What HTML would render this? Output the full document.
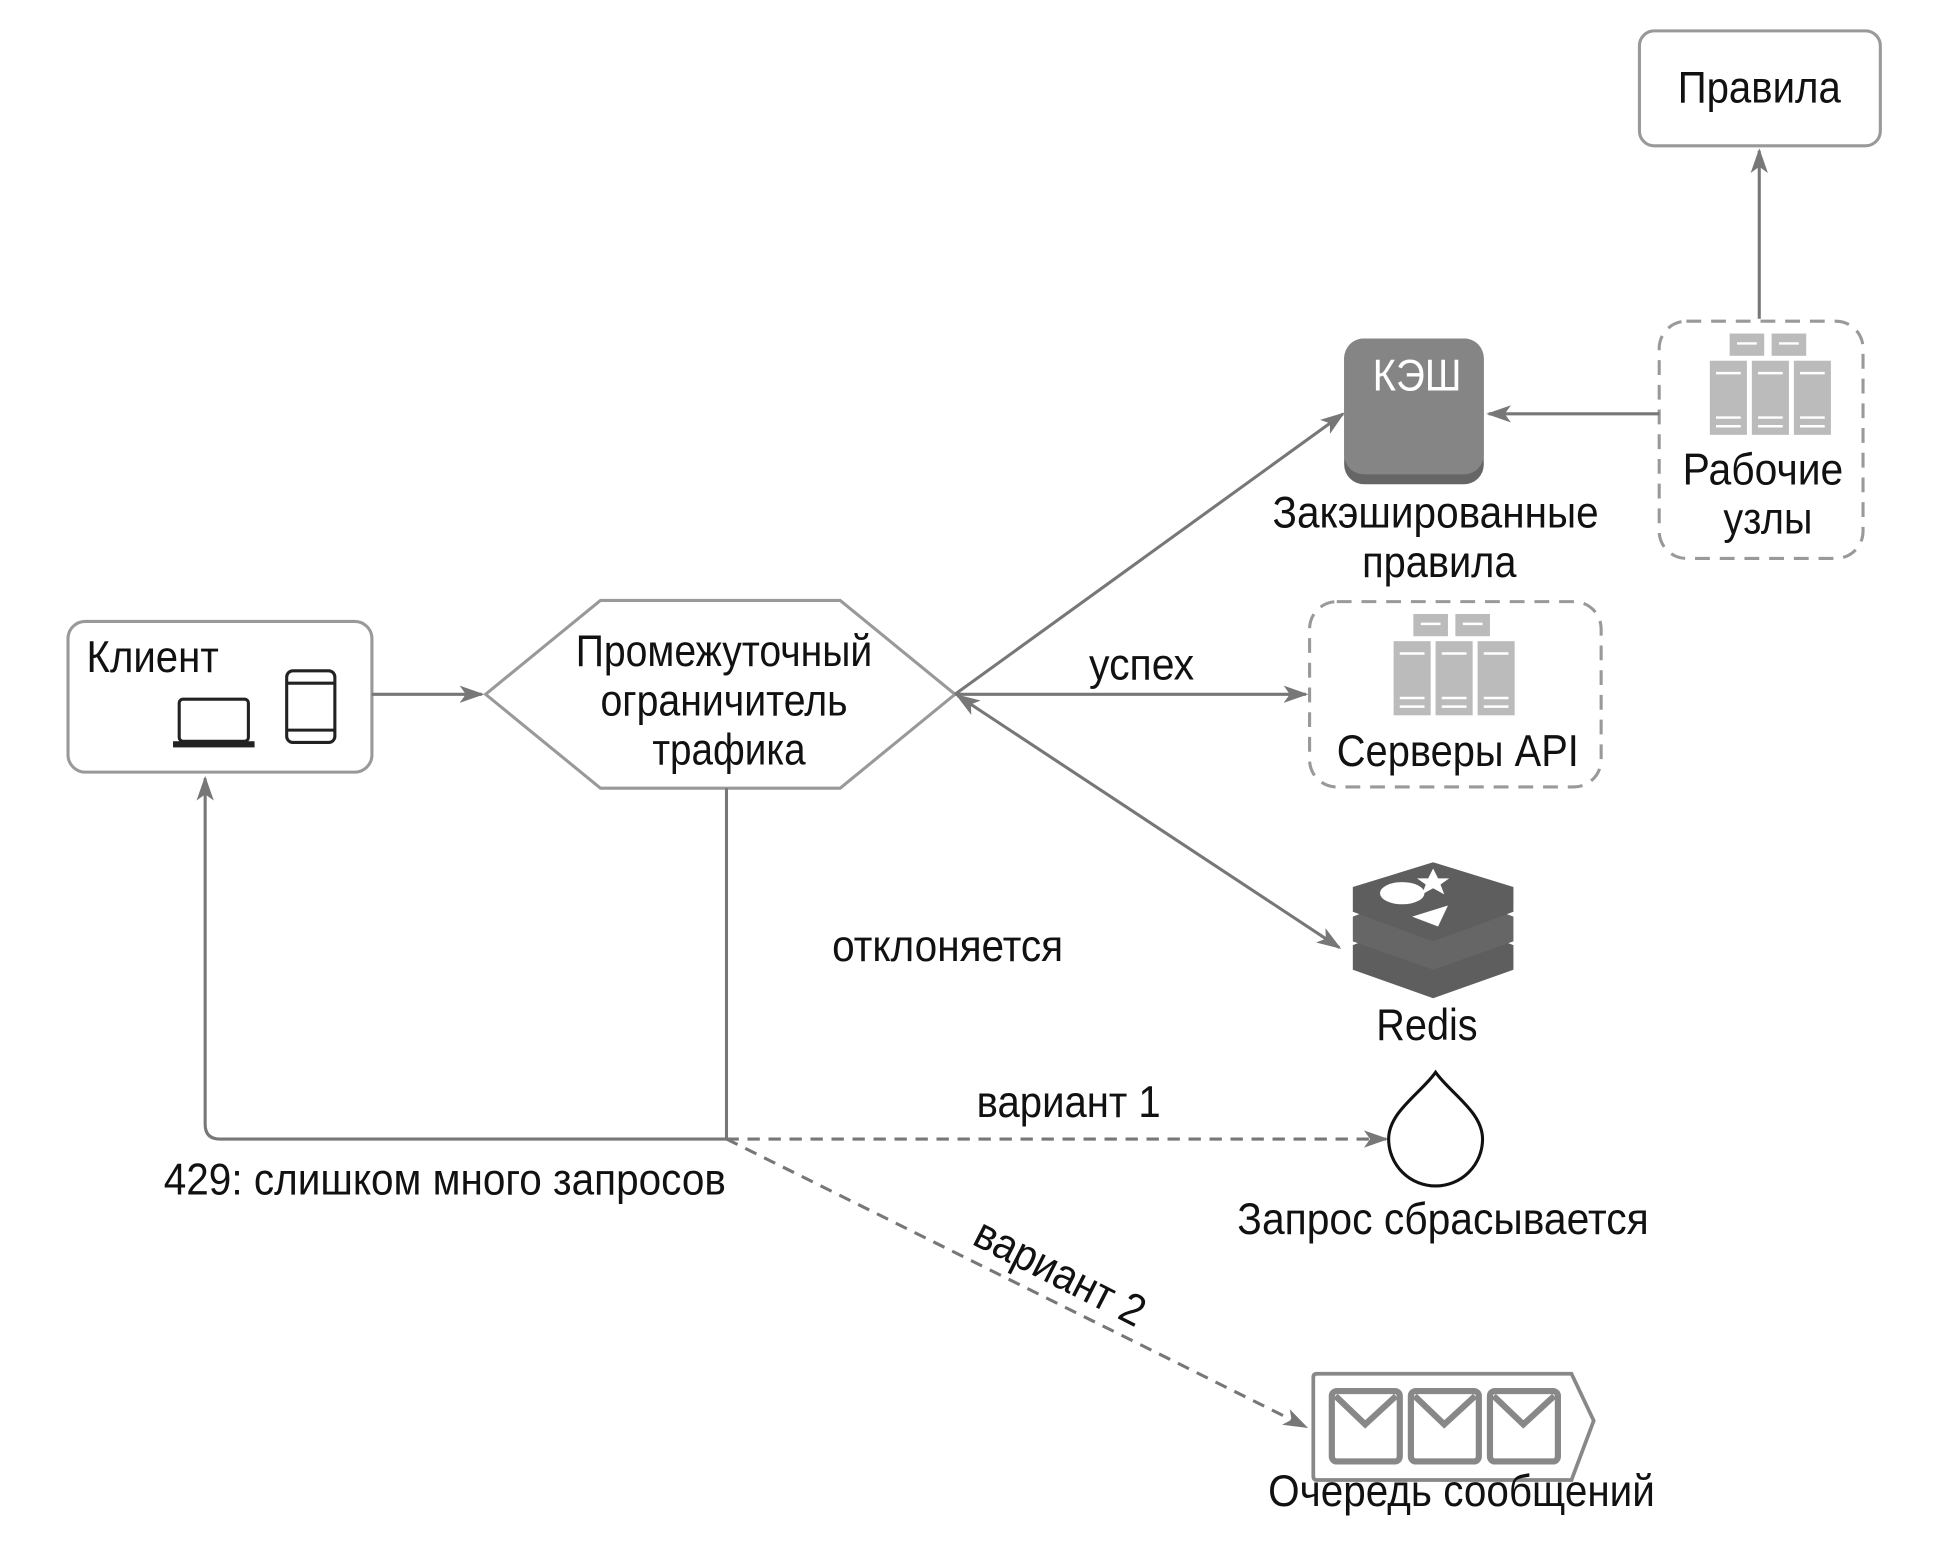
<!DOCTYPE html>
<html><head><meta charset="utf-8"><style>html,body{margin:0;padding:0;background:#fff}svg{display:block}text{font-family:"Liberation Sans","DejaVu Sans",sans-serif;font-size:36px;fill:#111}</style></head><body>
<svg width="1936" height="1564" viewBox="0 0 1567 1266" xmlns="http://www.w3.org/2000/svg">
<defs>
<marker id="a" viewBox="0 0 20 14" refX="18" refY="7" markerWidth="20" markerHeight="14" markerUnits="userSpaceOnUse" orient="auto-start-reverse"><path d="M0,0 L20,7 L0,14 L5,7 Z" fill="#777"/></marker>
<g id="srv">
<rect x="16" y="0" width="28" height="18" fill="#bbb"/><rect x="50" y="0" width="28" height="18" fill="#bbb"/>
<rect x="0" y="22" width="30" height="60" fill="#bbb"/><rect x="34" y="22" width="30" height="60" fill="#bbb"/><rect x="68" y="22" width="30" height="60" fill="#bbb"/>
<g stroke="#fff" stroke-width="2"><line x1="22" y1="8" x2="38" y2="8"/><line x1="56" y1="8" x2="72" y2="8"/><line x1="5" y1="32" x2="25" y2="32"/><line x1="39" y1="32" x2="59" y2="32"/><line x1="73" y1="32" x2="93" y2="32"/><line x1="5" y1="68" x2="25" y2="68"/><line x1="39" y1="68" x2="59" y2="68"/><line x1="73" y1="68" x2="93" y2="68"/><line x1="5" y1="75" x2="25" y2="75"/><line x1="39" y1="75" x2="59" y2="75"/><line x1="73" y1="75" x2="93" y2="75"/></g>
</g>
</defs>
<g fill="none" stroke="#999" stroke-width="2.5">
<rect x="1327" y="25" width="195" height="93" rx="12"/>
<rect x="1343" y="260" width="165" height="192" rx="22" stroke-dasharray="12,8"/>
<rect x="1060" y="487" width="236" height="150" rx="22" stroke-dasharray="12,8"/>
<rect x="55" y="503" width="246" height="122" rx="14"/>
<polygon points="393,562 486,486 680,486 773,562 680,638 486,638"/>
</g>
<g fill="none" stroke="#777" stroke-width="2.5">
<line x1="1424" y1="258" x2="1424" y2="122" marker-end="url(#a)"/>
<line x1="1343" y1="335" x2="1205" y2="335" marker-end="url(#a)"/>
<line x1="301" y1="562" x2="390" y2="562" marker-end="url(#a)"/>
<line x1="773" y1="562" x2="1087" y2="335" marker-end="url(#a)"/>
<line x1="773" y1="562" x2="1057" y2="562" marker-end="url(#a)"/>
<line x1="775" y1="563" x2="1084" y2="767" marker-start="url(#a)" marker-end="url(#a)"/>
<path d="M588,638 L588,922 L178,922 Q166,922 166,910 L166,630" marker-end="url(#a)"/>
<line x1="588" y1="922" x2="1122" y2="922" stroke-dasharray="10,7" marker-end="url(#a)"/>
<line x1="588" y1="922" x2="1057" y2="1155" stroke-dasharray="10,7" marker-end="url(#a)"/>
</g>
<rect x="1088" y="274" width="113" height="118" rx="16" fill="#666"/>
<rect x="1088" y="274" width="113" height="110" rx="16" fill="#858585"/>
<text x="1147" y="316" style="fill:#fff" text-anchor="middle" textLength="72" lengthAdjust="spacingAndGlyphs">КЭШ</text>
<use href="#srv" x="1384" y="270"/>
<use href="#srv" x="1128" y="497"/>
<g fill="none" stroke="#222" stroke-width="2.5">
<rect x="145" y="566" width="56" height="34" rx="3"/>
<rect x="232" y="543" width="39" height="58" rx="5"/>
<line x1="232" y1="553" x2="271" y2="553"/><line x1="232" y1="591" x2="271" y2="591"/>
</g>
<rect x="140" y="600" width="66" height="5" fill="#222"/>
<g fill="#5e5e5e">
<path d="M1095,765 L1160,740 L1225,765 L1225,785 L1160,808 L1095,785 Z"/>
<path d="M1095,742 L1160,717 L1225,742 L1225,762 L1160,785 L1095,762 Z" fill="#666"/>
<path d="M1095,718 L1160,698 L1225,718 L1225,738 L1160,762 L1095,738 Z"/>
</g>
<ellipse cx="1135" cy="723" rx="18" ry="9" fill="#fff"/>
<polygon points="1160,703 1164,711 1173,711 1166,716 1169,724 1160,719 1151,724 1154,716 1147,711 1156,711" fill="#fff"/>
<polygon points="1143,742 1172,733 1164,750" fill="#fff"/>
<path d="M1162,868 C1150,885 1124,900 1124,922 A38,38 0 0 0 1200,922 C1200,900 1174,885 1162,868 Z" fill="none" stroke="#111" stroke-width="2.5"/>
<path d="M1066,1112 L1272,1112 L1290,1150 L1272,1198 L1066,1198 Q1063,1198 1063,1195 L1063,1115 Q1063,1112 1066,1112 Z" fill="none" stroke="#888" stroke-width="3"/>
<g fill="none" stroke="#888" stroke-width="5">
<rect x="1078" y="1126" width="55" height="57" rx="4"/><path d="M1081,1130 L1105,1153 L1130,1130"/>
<rect x="1142" y="1126" width="55" height="57" rx="4"/><path d="M1145,1130 L1169,1153 L1194,1130"/>
<rect x="1206" y="1126" width="55" height="57" rx="4"/><path d="M1209,1130 L1233,1153 L1258,1130"/>
</g>
<g text-anchor="middle">
<text x="1424" y="83" textLength="132" lengthAdjust="spacingAndGlyphs">Правила</text>
<text x="1427" y="392" textLength="130" lengthAdjust="spacingAndGlyphs">Рабочие</text>
<text x="1431" y="432" textLength="72" lengthAdjust="spacingAndGlyphs">узлы</text>
<text x="1162" y="427" textLength="264" lengthAdjust="spacingAndGlyphs">Закэшированные</text>
<text x="1165" y="467" textLength="125" lengthAdjust="spacingAndGlyphs">правила</text>
<text x="924" y="550" textLength="85" lengthAdjust="spacingAndGlyphs">успех</text>
<text x="1180" y="620" textLength="196" lengthAdjust="spacingAndGlyphs">Серверы API</text>
<text x="586" y="539" textLength="240" lengthAdjust="spacingAndGlyphs">Промежуточный</text>
<text x="586" y="579" textLength="200" lengthAdjust="spacingAndGlyphs">ограничитель</text>
<text x="590" y="619" textLength="124" lengthAdjust="spacingAndGlyphs">трафика</text>
<text x="767" y="778" textLength="187" lengthAdjust="spacingAndGlyphs">отклоняется</text>
<text x="1155" y="842" textLength="82" lengthAdjust="spacingAndGlyphs">Redis</text>
<text x="865" y="904" textLength="149" lengthAdjust="spacingAndGlyphs">вариант 1</text>
<text x="360" y="967" textLength="455" lengthAdjust="spacingAndGlyphs">429: слишком много запросов</text>
<text x="1168" y="999" textLength="333" lengthAdjust="spacingAndGlyphs">Запрос сбрасывается</text>
<text x="1183" y="1219" textLength="313" lengthAdjust="spacingAndGlyphs">Очередь сообщений</text>
<text x="858" y="1042" transform="rotate(27 858 1030)" textLength="150" lengthAdjust="spacingAndGlyphs">вариант 2</text>
</g>
<text x="70" y="544" textLength="107" lengthAdjust="spacingAndGlyphs">Клиент</text>
</svg>
</body></html>
